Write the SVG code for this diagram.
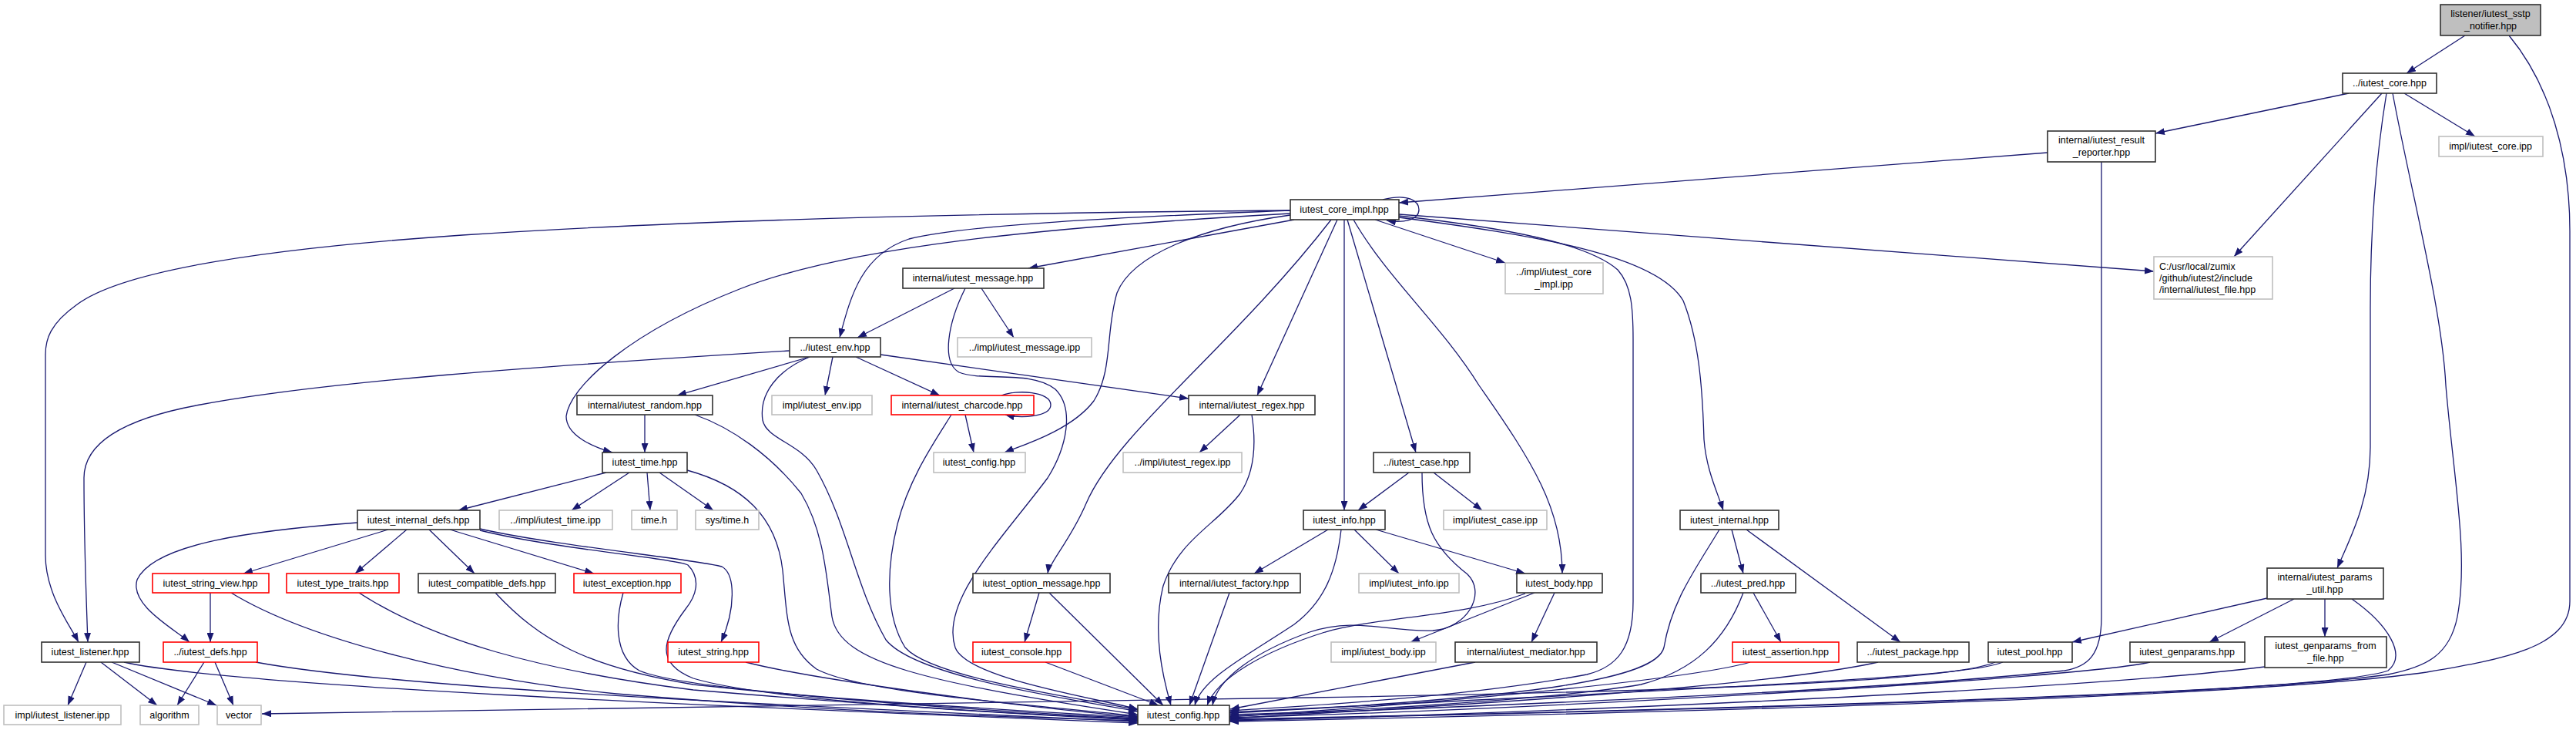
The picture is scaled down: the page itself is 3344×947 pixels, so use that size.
<svg xmlns="http://www.w3.org/2000/svg" width="3344" height="947" viewBox="0 0 3344 947">
<style>
.e{fill:none;stroke:#191970;stroke-width:1.3;marker-end:url(#ah)}
.nd rect{fill:#fff;stroke:#303030;stroke-width:1.6}
.gr rect{stroke:#bfbfbf}
.rd rect{stroke:#ff0000}
.root rect{fill:#bfbfbf}
text{font-family:"Liberation Sans",Arial,sans-serif;font-size:12.5px;fill:#000;text-anchor:middle}
.lt{text-anchor:start}
</style>
<defs>
<marker id="ah" markerWidth="12" markerHeight="9" refX="12" refY="4.5" orient="auto" markerUnits="userSpaceOnUse"><path d="M0,0 L12,4.5 L0,9 z" fill="#191970"/></marker>
</defs>
<rect width="3344" height="947" fill="#fff"/>
<g id="edges">
<path class="e" d="M3200,46 L3124,95"/>
<path class="e" d="M3257,46 C3310,110 3336,200 3336,300 L3336,780 C3336,840 3250,855 3150,872 C2900,908 2000,928 1596,936"/>
<path class="e" d="M3049,121 L2798,173"/>
<path class="e" d="M3121,121 L3213,177"/>
<path class="e" d="M3092,121 L2900,333"/>
<path class="e" d="M3098,121 C3085,200 3077,300 3077,400 L3077,580 C3077,650 3050,700 3034,737"/>
<path class="e" d="M3106,121 C3130,250 3170,400 3175,500 C3185,620 3205,720 3190,800 C3180,850 3150,865 3100,875 C2900,905 2000,925 1596,933"/>
<path class="e" d="M2658,198 L1816,263"/>
<path class="e" d="M2728,210 L2728,800 C2728,850 2710,865 2680,870 C2400,900 1800,920 1596,929"/>
<path class="e" d="M1795,259 C1830,250 1842,262 1842,272 C1842,285 1822,290 1800,286"/>
<path class="e" d="M1785,285 L1954,341"/>
<path class="e" d="M1816,278 L2796,352"/>
<path class="e" d="M1816,280 C1950,295 2060,315 2100,350 C2118,370 2120,400 2120,440 L2120,780 C2120,840 2100,865 2060,875 C1900,905 1700,915 1596,922"/>
<path class="e" d="M1816,282 C1990,305 2150,330 2185,390 C2205,440 2210,500 2212,570 C2215,610 2230,640 2237,662"/>
<path class="e" d="M1757,285 C1800,360 1870,420 1920,500 C1990,600 2028,660 2028,744"/>
<path class="e" d="M1749,285 L1838,587"/>
<path class="e" d="M1745,285 L1745,662"/>
<path class="e" d="M1736,285 L1632,513"/>
<path class="e" d="M1728,285 C1600,450 1450,560 1410,653 C1390,700 1362,730 1360,744"/>
<path class="e" d="M1675,277 C1350,295 1100,320 960,375 C820,430 740,500 735,540 C735,565 770,580 795,587"/>
<path class="e" d="M1680,285 L1335,348"/>
<path class="e" d="M1675,273 C1450,282 1250,292 1180,310 C1120,330 1105,380 1090,438"/>
<path class="e" d="M1675,279 C1560,295 1470,330 1450,380 C1435,430 1445,480 1420,520 C1390,560 1320,580 1304,587"/>
<path class="e" d="M1675,273 C1300,276 900,285 600,305 C350,322 160,350 100,395 C65,420 59,440 59,460 L59,720 C59,770 90,810 102,833"/>
<path class="e" d="M1025,455 C700,475 420,495 260,525 C150,545 109,580 109,620 C109,700 112,780 114,833"/>
<path class="e" d="M1239,374 L1113,438"/>
<path class="e" d="M1274,374 L1316,438"/>
<path class="e" d="M1253,374 C1230,420 1222,470 1245,483 C1275,495 1340,480 1370,505 C1395,530 1385,580 1360,620 C1300,700 1220,780 1240,840 C1255,880 1420,905 1477,920"/>
<path class="e" d="M1051,463 L879,513"/>
<path class="e" d="M1081,463 L1071,513"/>
<path class="e" d="M1111,463 L1220,513"/>
<path class="e" d="M1143,460 L1543,517"/>
<path class="e" d="M1051,463 C1010,480 985,510 990,545 C995,570 1040,575 1060,610 C1100,680 1110,760 1150,830 C1190,880 1400,908 1477,923"/>
<path class="e" d="M837,538 L837,587"/>
<path class="e" d="M902,538 C950,555 1000,590 1040,640 C1070,690 1073,750 1080,800 C1090,860 1200,885 1477,927"/>
<path class="e" d="M1300,513 C1320,505 1364,508 1364,525 C1364,541 1325,543 1305,538"/>
<path class="e" d="M1253,538 L1264,587"/>
<path class="e" d="M1235,538 C1215,570 1180,620 1165,680 C1150,740 1150,800 1175,840 C1210,880 1400,905 1477,921"/>
<path class="e" d="M1610,538 L1557,587"/>
<path class="e" d="M1625,538 C1630,570 1630,610 1610,640 C1580,680 1530,700 1510,760 C1495,820 1510,880 1520,915"/>
<path class="e" d="M787,613 L595,662"/>
<path class="e" d="M817,613 L742,662"/>
<path class="e" d="M840,613 L844,662"/>
<path class="e" d="M856,613 L926,662"/>
<path class="e" d="M892,610 C965,630 1008,670 1016,740 C1022,800 1020,840 1060,868 C1120,900 1350,915 1477,929"/>
<path class="e" d="M464,678 C330,688 200,705 178,752 C168,785 225,815 246,833"/>
<path class="e" d="M504,687 L316,744"/>
<path class="e" d="M528,687 L461,744"/>
<path class="e" d="M557,687 L616,744"/>
<path class="e" d="M584,687 L771,744"/>
<path class="e" d="M623,686 C720,708 900,725 937,735 C955,745 955,790 936,833"/>
<path class="e" d="M623,688 C720,712 880,725 893,733 C905,745 910,765 890,790 C860,830 850,860 900,880 C1000,910 1300,925 1477,933"/>
<path class="e" d="M273,769 L273,833"/>
<path class="e" d="M300,769 C400,830 600,880 800,900 C1100,925 1300,930 1477,935"/>
<path class="e" d="M466,769 C560,830 700,870 900,895 C1200,920 1350,928 1477,934"/>
<path class="e" d="M643,769 C700,830 760,865 900,888 C1150,915 1350,926 1477,932"/>
<path class="e" d="M809,769 C800,800 795,850 830,870 C900,900 1300,920 1477,931"/>
<path class="e" d="M265,859 L230,915"/>
<path class="e" d="M279,859 L303,915"/>
<path class="e" d="M332,859 C500,890 900,910 1477,936"/>
<path class="e" d="M112,859 L88,915"/>
<path class="e" d="M131,859 L204,915"/>
<path class="e" d="M145,859 L281,915"/>
<path class="e" d="M161,859 C300,890 900,915 1477,938"/>
<path class="e" d="M968,859 C1050,880 1300,915 1477,930"/>
<path class="e" d="M1349,769 L1330,833"/>
<path class="e" d="M1362,769 L1510,915"/>
<path class="e" d="M1357,859 L1504,915"/>
<path class="e" d="M1829,613 L1763,662"/>
<path class="e" d="M1861,613 L1924,662"/>
<path class="e" d="M1846,613 C1846,680 1860,710 1905,745 C1930,770 1905,815 1860,818 C1800,820 1760,800 1700,820 C1630,845 1580,880 1574,915"/>
<path class="e" d="M1724,687 L1628,744"/>
<path class="e" d="M1758,687 L1816,744"/>
<path class="e" d="M1786,687 L1980,744"/>
<path class="e" d="M1741,687 C1735,740 1720,780 1680,810 C1620,850 1560,880 1551,915"/>
<path class="e" d="M1596,769 L1544,915"/>
<path class="e" d="M1992,769 L1831,833"/>
<path class="e" d="M2018,769 L1988,833"/>
<path class="e" d="M1980,770 C1900,800 1790,800 1720,820 C1640,845 1580,880 1567,915"/>
<path class="e" d="M1915,859 L1597,920"/>
<path class="e" d="M2248,687 L2263,744"/>
<path class="e" d="M2267,687 L2467,833"/>
<path class="e" d="M2232,687 C2200,740 2170,780 2160,840 C2150,880 2000,905 1596,925"/>
<path class="e" d="M2276,769 L2312,833"/>
<path class="e" d="M2263,769 C2240,830 2200,870 2130,888 C2000,910 1700,925 1596,927"/>
<path class="e" d="M2272,859 C2200,880 1900,910 1596,930"/>
<path class="e" d="M2438,859 C2300,890 1900,915 1596,932"/>
<path class="e" d="M2943,776 L2690,833"/>
<path class="e" d="M2978,777 L2868,833"/>
<path class="e" d="M3018,777 L3018,826"/>
<path class="e" d="M3053,777 C3100,810 3125,850 3100,870 C3000,905 2000,925 1596,934"/>
<path class="e" d="M2600,859 C2560,875 2400,885 1596,924"/>
<path class="e" d="M2590,859 C2540,880 2300,895 1700,905 C1200,912 700,920 340,926"/>
<path class="e" d="M2791,859 C2700,880 2000,920 1596,931"/>
<path class="e" d="M2940,865 C2700,895 2000,925 1596,935"/>
</g>
<g id="n_sstp" class="nd root"><rect x="3168" y="6" width="130" height="40"/><text x="3233" y="22">listener/iutest_sstp</text><text x="3233" y="38">_notifier.hpp</text></g>
<g id="n_core" class="nd"><rect x="3041" y="95" width="122" height="26"/><text x="3102" y="112">../iutest_core.hpp</text></g>
<g id="n_reporter" class="nd"><rect x="2658" y="170" width="140" height="40"/><text x="2728" y="186">internal/iutest_result</text><text x="2728" y="202">_reporter.hpp</text></g>
<g id="n_core_ipp" class="nd gr"><rect x="3166" y="177" width="135" height="26"/><text x="3233" y="194">impl/iutest_core.ipp</text></g>
<g id="n_core_impl" class="nd"><rect x="1675" y="259" width="141" height="26"/><text x="1745" y="276">iutest_core_impl.hpp</text></g>
<g id="n_file" class="nd gr"><rect x="2796" y="333" width="154" height="55"/><text class="lt" x="2803" y="350">C:/usr/local/zumix</text><text class="lt" x="2803" y="365">/github/iutest2/include</text><text class="lt" x="2803" y="380">/internal/iutest_file.hpp</text></g>
<g id="n_core_impl_ipp" class="nd gr"><rect x="1954" y="341" width="127" height="40"/><text x="2017" y="357">../impl/iutest_core</text><text x="2017" y="373">_impl.ipp</text></g>
<g id="n_message" class="nd"><rect x="1172" y="348" width="183" height="26"/><text x="1263" y="365">internal/iutest_message.hpp</text></g>
<g id="n_env" class="nd"><rect x="1025" y="438" width="118" height="25"/><text x="1084" y="455">../iutest_env.hpp</text></g>
<g id="n_message_ipp" class="nd gr"><rect x="1243" y="438" width="174" height="25"/><text x="1330" y="455">../impl/iutest_message.ipp</text></g>
<g id="n_random" class="nd"><rect x="749" y="513" width="176" height="25"/><text x="837" y="530">internal/iutest_random.hpp</text></g>
<g id="n_env_ipp" class="nd gr"><rect x="1002" y="513" width="130" height="25"/><text x="1067" y="530">impl/iutest_env.ipp</text></g>
<g id="n_charcode" class="nd rd"><rect x="1157" y="513" width="185" height="25"/><text x="1249" y="530">internal/iutest_charcode.hpp</text></g>
<g id="n_regex" class="nd"><rect x="1543" y="513" width="164" height="25"/><text x="1625" y="530">internal/iutest_regex.hpp</text></g>
<g id="n_time" class="nd"><rect x="782" y="587" width="110" height="26"/><text x="837" y="604">iutest_time.hpp</text></g>
<g id="n_config_g" class="nd gr"><rect x="1212" y="587" width="119" height="26"/><text x="1271" y="604">iutest_config.hpp</text></g>
<g id="n_regex_ipp" class="nd gr"><rect x="1458" y="587" width="154" height="26"/><text x="1535" y="604">../impl/iutest_regex.ipp</text></g>
<g id="n_case" class="nd"><rect x="1783" y="587" width="125" height="26"/><text x="1845" y="604">../iutest_case.hpp</text></g>
<g id="n_internal_defs" class="nd"><rect x="464" y="662" width="159" height="25"/><text x="543" y="679">iutest_internal_defs.hpp</text></g>
<g id="n_time_ipp" class="nd gr"><rect x="648" y="662" width="147" height="25"/><text x="721" y="679">../impl/iutest_time.ipp</text></g>
<g id="n_time_h" class="nd gr"><rect x="820" y="662" width="59" height="25"/><text x="849" y="679">time.h</text></g>
<g id="n_systime" class="nd gr"><rect x="903" y="662" width="82" height="25"/><text x="944" y="679">sys/time.h</text></g>
<g id="n_info" class="nd"><rect x="1692" y="662" width="106" height="25"/><text x="1745" y="679">iutest_info.hpp</text></g>
<g id="n_case_ipp" class="nd gr"><rect x="1874" y="662" width="134" height="25"/><text x="1941" y="679">impl/iutest_case.ipp</text></g>
<g id="n_internal" class="nd"><rect x="2181" y="662" width="128" height="25"/><text x="2245" y="679">iutest_internal.hpp</text></g>
<g id="n_string_view" class="nd rd"><rect x="198" y="744" width="151" height="25"/><text x="273" y="761">iutest_string_view.hpp</text></g>
<g id="n_type_traits" class="nd rd"><rect x="372" y="744" width="146" height="25"/><text x="445" y="761">iutest_type_traits.hpp</text></g>
<g id="n_compatible" class="nd"><rect x="543" y="744" width="178" height="25"/><text x="632" y="761">iutest_compatible_defs.hpp</text></g>
<g id="n_exception" class="nd rd"><rect x="745" y="744" width="139" height="25"/><text x="814" y="761">iutest_exception.hpp</text></g>
<g id="n_option_message" class="nd"><rect x="1263" y="744" width="178" height="25"/><text x="1352" y="761">iutest_option_message.hpp</text></g>
<g id="n_factory" class="nd"><rect x="1517" y="744" width="171" height="25"/><text x="1602" y="761">internal/iutest_factory.hpp</text></g>
<g id="n_info_ipp" class="nd gr"><rect x="1764" y="744" width="130" height="25"/><text x="1829" y="761">impl/iutest_info.ipp</text></g>
<g id="n_body" class="nd"><rect x="1969" y="744" width="111" height="25"/><text x="2024" y="761">iutest_body.hpp</text></g>
<g id="n_pred" class="nd"><rect x="2208" y="744" width="123" height="25"/><text x="2269" y="761">../iutest_pred.hpp</text></g>
<g id="n_params_util" class="nd"><rect x="2943" y="737" width="151" height="40"/><text x="3018" y="753">internal/iutest_params</text><text x="3018" y="769">_util.hpp</text></g>
<g id="n_listener" class="nd"><rect x="54" y="833" width="127" height="26"/><text x="117" y="850">iutest_listener.hpp</text></g>
<g id="n_defs" class="nd rd"><rect x="212" y="833" width="122" height="26"/><text x="273" y="850">../iutest_defs.hpp</text></g>
<g id="n_string" class="nd rd"><rect x="867" y="833" width="118" height="26"/><text x="926" y="850">iutest_string.hpp</text></g>
<g id="n_console" class="nd rd"><rect x="1263" y="833" width="127" height="26"/><text x="1326" y="850">iutest_console.hpp</text></g>
<g id="n_body_ipp" class="nd gr"><rect x="1728" y="833" width="136" height="26"/><text x="1796" y="850">impl/iutest_body.ipp</text></g>
<g id="n_mediator" class="nd"><rect x="1889" y="833" width="184" height="26"/><text x="1981" y="850">internal/iutest_mediator.hpp</text></g>
<g id="n_assertion" class="nd rd"><rect x="2249" y="833" width="138" height="26"/><text x="2318" y="850">iutest_assertion.hpp</text></g>
<g id="n_package" class="nd"><rect x="2411" y="833" width="145" height="26"/><text x="2483" y="850">../iutest_package.hpp</text></g>
<g id="n_pool" class="nd"><rect x="2581" y="833" width="109" height="26"/><text x="2635" y="850">iutest_pool.hpp</text></g>
<g id="n_genparams" class="nd"><rect x="2765" y="833" width="149" height="26"/><text x="2839" y="850">iutest_genparams.hpp</text></g>
<g id="n_gpff" class="nd"><rect x="2940" y="826" width="158" height="40"/><text x="3019" y="842">iutest_genparams_from</text><text x="3019" y="858">_file.hpp</text></g>
<g id="n_listener_ipp" class="nd gr"><rect x="5" y="915" width="152" height="25"/><text x="81" y="932">impl/iutest_listener.ipp</text></g>
<g id="n_algorithm" class="nd gr"><rect x="182" y="915" width="76" height="25"/><text x="220" y="932">algorithm</text></g>
<g id="n_vector" class="nd gr"><rect x="282" y="915" width="57" height="25"/><text x="310" y="932">vector</text></g>
<g id="n_config" class="nd"><rect x="1477" y="915" width="119" height="25"/><text x="1536" y="932">iutest_config.hpp</text></g>
</svg>
